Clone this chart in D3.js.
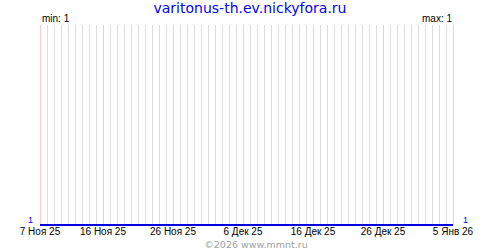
<!DOCTYPE html>
<html>
<head>
<meta charset="utf-8">
<script src="https://cdn.jsdelivr.net/npm/d3@7"></script>
<style>
  body { margin: 0; background: #fff; }
  svg text { font-family: "DejaVu Sans", Verdana, sans-serif; }
  svg text.small { font-family: "Liberation Sans", Arial, sans-serif; }
</style>
</head>
<body>
<svg width="500" height="250"></svg>
<script>
// daily values, 7 Nov 2025 .. 5 Jan 2026
const startDate = "2025-11-07";
const values = [
  1, 1, 1, 1, 1, 1, 1, 1, 1, 1,
  1, 1, 1, 1, 1, 1, 1, 1, 1, 1,
  1, 1, 1, 1, 1, 1, 1, 1, 1, 1,
  1, 1, 1, 1, 1, 1, 1, 1, 1, 1,
  1, 1, 1, 1, 1, 1, 1, 1, 1, 1,
  1, 1, 1, 1, 1, 1, 1, 1, 1, 1
];
const tickDates = ["2025-11-07", "2025-11-16", "2025-11-26", "2025-12-06", "2025-12-16", "2025-12-26", "2026-01-05"];
const tickLabels = ["7 Ноя 25", "16 Ноя 25", "26 Ноя 25", "6 Дек 25", "16 Дек 25", "26 Дек 25", "5 Янв 26"];
const title = "varitonus-th.ev.nickyfora.ru";
const footer = "©2026 www.mmnt.ru";

const margin = { left: 40, right: 47, top: 25, bottom: 25 };
const width = 500, height = 250;

const parse = d3.utcParse("%Y-%m-%d");
const t0 = parse(startDate);
const data = values.map((v, i) => ({ date: d3.utcDay.offset(t0, i), value: v }));
const lastDate = data[data.length - 1].date;

const minV = d3.min(values), maxV = d3.max(values);

const x = d3.scaleUtc()
  .domain([t0, lastDate])
  .range([margin.left, width - margin.right]);
// flat series sits on the bottom edge
const y = d3.scaleLinear()
  .domain([minV, maxV > minV ? maxV : minV + 1])
  .range([height - margin.bottom, margin.top]);

const svg = d3.select("svg");

// daily grid
svg.append("g")
  .selectAll("line")
  .data(d3.utcDay.range(t0, d3.utcDay.offset(lastDate, 1)))
  .enter().append("line")
  .attr("x1", d => Math.round(x(d)) + 0.5)
  .attr("x2", d => Math.round(x(d)) + 0.5)
  .attr("y1", margin.top)
  .attr("y2", height - margin.bottom)
  .attr("stroke", "#dcdcdc")
  .attr("stroke-width", 1);

// labelled day lines
const ticks = tickDates.map((d, i) => ({ date: parse(d), label: tickLabels[i] }));
svg.append("g")
  .selectAll("line")
  .data(ticks)
  .enter().append("line")
  .attr("x1", d => Math.round(x(d.date)) + 0.5)
  .attr("x2", d => Math.round(x(d.date)) + 0.5)
  .attr("y1", margin.top)
  .attr("y2", height - margin.bottom)
  .attr("stroke", "#ffc8c8")
  .attr("stroke-width", 1);

// value line
const line = d3.line()
  .x(d => x(d.date))
  .y(d => y(d.value));
svg.append("path")
  .datum(data)
  .attr("d", line)
  .attr("fill", "none")
  .attr("stroke", "#0000dd")
  .attr("stroke-width", 2);

// tick labels
svg.append("g")
  .selectAll("text")
  .data(ticks)
  .enter().append("text")
  .attr("class", "small")
  .attr("x", d => x(d.date))
  .attr("y", 235)
  .attr("text-anchor", "middle")
  .attr("font-size", 10)
  .attr("fill", "#000")
  .text(d => d.label);

// title
svg.append("text")
  .attr("x", 250)
  .attr("y", 13)
  .attr("text-anchor", "middle")
  .attr("font-size", 14)
  .attr("fill", "#0000ff")
  .text(title);

svg.append("text")
  .attr("class", "small")
  .attr("x", margin.left + 2)
  .attr("y", 22)
  .attr("font-size", 10)
  .text("min: " + minV);

svg.append("text")
  .attr("class", "small")
  .attr("x", width - margin.right - 1)
  .attr("y", 22)
  .attr("text-anchor", "end")
  .attr("font-size", 10)
  .text("max: " + maxV);

// end values
svg.append("text")
  .attr("class", "small")
  .attr("x", margin.left - 7)
  .attr("y", 223)
  .attr("text-anchor", "end")
  .attr("font-size", 9)
  .attr("fill", "#0000dd")
  .text(values[0]);

svg.append("text")
  .attr("class", "small")
  .attr("x", width - margin.right + 10)
  .attr("y", 223)
  .attr("font-size", 9)
  .attr("fill", "#0000dd")
  .text(values[values.length - 1]);

svg.append("text")
  .attr("x", 256)
  .attr("y", 247.5)
  .attr("text-anchor", "middle")
  .attr("font-size", 9.5)
  .attr("fill", "#a0a0a0")
  .text(footer);
</script>
</body>
</html>
